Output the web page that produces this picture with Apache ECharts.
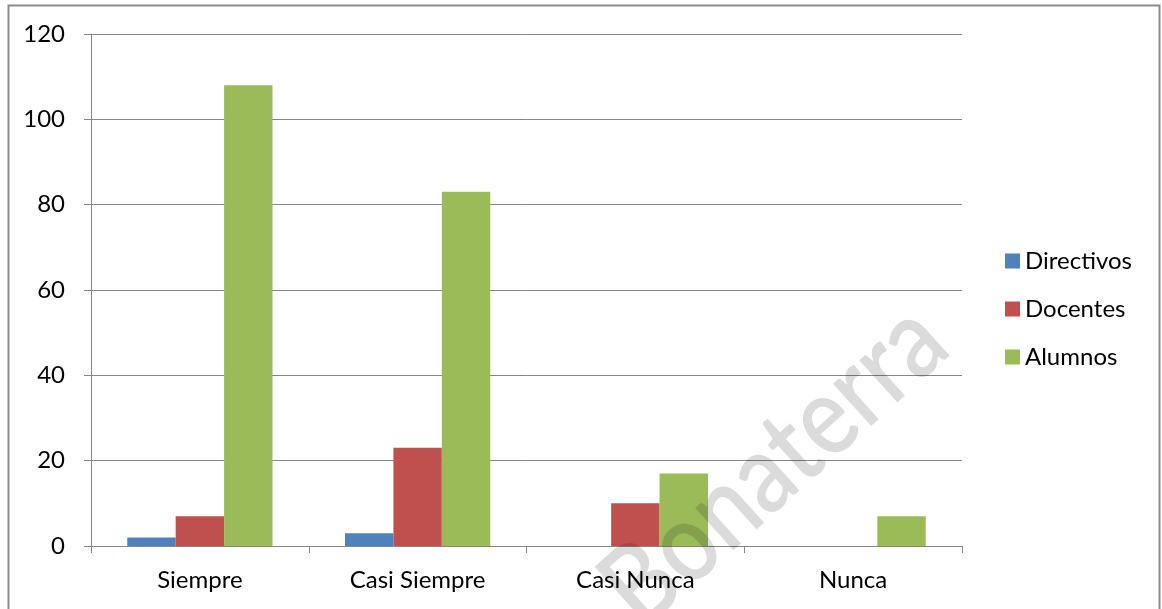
<!DOCTYPE html>
<html>
<head>
<meta charset="utf-8">
<script src="https://cdn.jsdelivr.net/npm/echarts@6/dist/echarts.min.js"></script>
<style>
html,body{margin:0;padding:0;background:#fff;}
#chart{width:1162px;height:609px;}
</style>
</head>
<body>
<div id="chart"></div>
<script>
const categories = ['Siempre', 'Casi Siempre', 'Casi Nunca', 'Nunca'];
const directivos = [2, 3, 0, 0];
const docentes = [7, 23, 10, 0];
const alumnos = [108, 83, 17, 7];
const yTicks = { min: 0, max: 120, interval: 20 };

const FONT = 'Lato';
const axisColor = '#868686';
const chart = echarts.init(document.getElementById('chart'), null, { renderer: 'canvas' });
chart.setOption({
  animation: false,
  backgroundColor: '#ffffff',
  textStyle: { fontFamily: FONT },
  grid: { left: 91, right: 200, top: 34, bottom: 63, containLabel: false },
  legend: {
    orient: 'vertical',
    left: 1005,
    top: 249,
    padding: 0,
    itemWidth: 15,
    itemHeight: 15,
    itemGap: 24,
    icon: 'rect',
    textStyle: { fontFamily: FONT, fontSize: 24, color: '#000' },
    data: ['Directivos', 'Docentes', 'Alumnos']
  },
  xAxis: {
    type: 'category',
    data: categories,
    axisLine: { lineStyle: { color: axisColor, width: 1 } },
    axisTick: { show: true, length: 7, lineStyle: { color: axisColor } },
    axisLabel: { fontFamily: FONT, fontSize: 24, color: '#000', margin: 22 },
    splitLine: { show: false }
  },
  yAxis: {
    type: 'value',
    min: yTicks.min,
    max: yTicks.max,
    interval: yTicks.interval,
    axisLine: { show: true, lineStyle: { color: axisColor, width: 1 } },
    axisTick: { show: true, length: 7, lineStyle: { color: axisColor } },
    axisLabel: { fontFamily: FONT, fontSize: 24, color: '#000', margin: 26 },
    splitLine: { show: true, lineStyle: { color: axisColor, width: 1 } }
  },
  series: [
    { name: 'Directivos', type: 'bar', data: directivos, itemStyle: { color: '#4F81BD' }, barGap: '0%', barCategoryGap: '33.3%' },
    { name: 'Docentes', type: 'bar', data: docentes, itemStyle: { color: '#C0504D' }, barGap: '0%', barCategoryGap: '33.3%' },
    { name: 'Alumnos', type: 'bar', data: alumnos, itemStyle: { color: '#9BBB59' }, barGap: '0%', barCategoryGap: '33.3%' }
  ],
  graphic: [
    {
      type: 'rect',
      z: -10,
      silent: true,
      shape: { x: 8.5, y: 5.5, width: 1151, height: 700 },
      style: { fill: 'none', stroke: '#8a8a8a', lineWidth: 2 }
    },
    {
      type: 'text',
      z: 100,
      silent: true,
      x: 774,
      y: 465,
      scaleX: 0.85,
      scaleY: 1,
      rotation: 42 * Math.PI / 180,
      style: {
        text: 'Bonaterra',
        fontFamily: FONT,
        fontWeight: 600,
        fontSize: 112,
        fill: 'rgba(0,0,0,0.14)',
        align: 'center',
        verticalAlign: 'middle'
      }
    }
  ]
});
</script>
</body>
</html>
